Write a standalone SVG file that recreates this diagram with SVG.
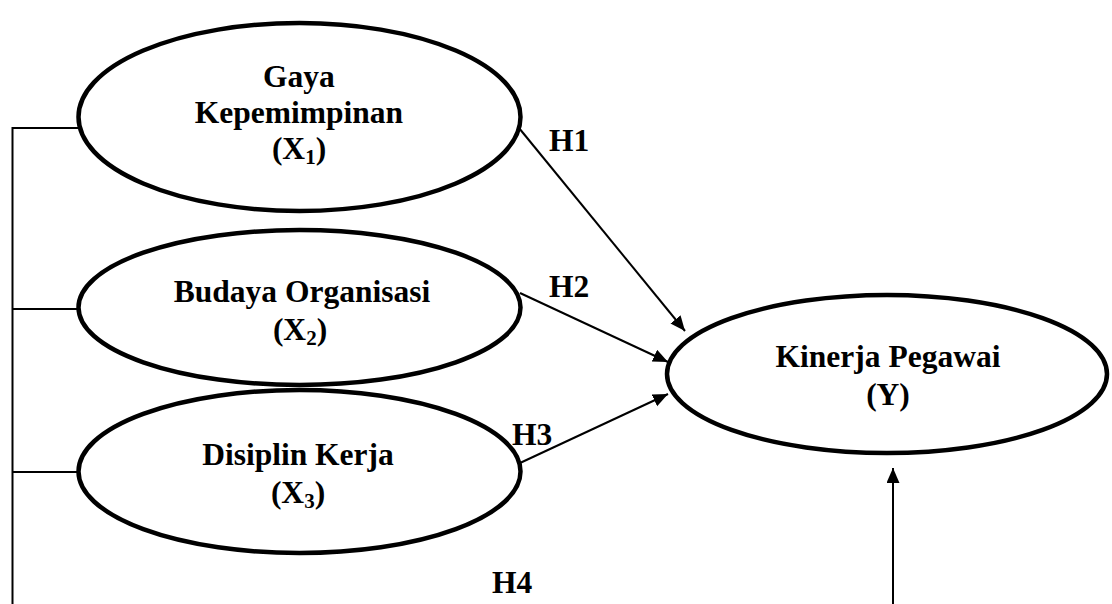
<svg xmlns="http://www.w3.org/2000/svg" width="1112" height="604" viewBox="0 0 1112 604">
<style>
.node ellipse{fill:#fff;stroke:#000;stroke-width:4.5}
text{font-family:"Liberation Serif","Times New Roman",serif;font-weight:bold;font-size:31.5px;fill:#000}
.lbl{text-anchor:middle}
.sub{font-size:21px}
.conn line,.conn path{stroke:#000;stroke-width:2;fill:none}
</style>
<defs>
<marker id="arr" markerUnits="userSpaceOnUse" markerWidth="16" markerHeight="14" refX="15" refY="6.5" orient="auto">
<path d="M0,0 L15,6.5 L0,13 z" fill="#000"/>
</marker>
</defs>
<g class="conn" id="connectors">
<path d="M78,128 H12.5 V604"/>
<line x1="12.5" y1="309" x2="78" y2="309"/>
<line x1="12.5" y1="472" x2="78" y2="472"/>
<line x1="519" y1="128" x2="685" y2="331" marker-end="url(#arr)"/>
<line x1="520" y1="293" x2="668" y2="362" marker-end="url(#arr)"/>
<line x1="520" y1="463" x2="668" y2="394" marker-end="url(#arr)"/>
<line x1="893" y1="604" x2="893" y2="468" marker-end="url(#arr)"/>
<text x="549" y="151">H1</text>
<text x="549" y="297">H2</text>
<text x="512" y="445">H3</text>
<text x="492" y="593">H4</text>
</g>
<g class="node" id="x1">
<ellipse cx="299.5" cy="117" rx="221" ry="94"/>
<text class="lbl" x="299" y="87">Gaya</text>
<text class="lbl" x="299" y="123">Kepemimpinan</text>
<text class="lbl" x="299" y="159">(X<tspan class="sub" dy="5">1</tspan><tspan dy="-5">)</tspan></text>
</g>
<g class="node" id="x2">
<ellipse cx="299.5" cy="307.5" rx="221" ry="77.5"/>
<text class="lbl" x="302" y="302">Budaya Organisasi</text>
<text class="lbl" x="300" y="340">(X<tspan class="sub" dy="5">2</tspan><tspan dy="-5">)</tspan></text>
</g>
<g class="node" id="x3">
<ellipse cx="299.5" cy="471.5" rx="221" ry="81.5"/>
<text class="lbl" x="298" y="465">Disiplin Kerja</text>
<text class="lbl" x="298" y="503">(X<tspan class="sub" dy="5">3</tspan><tspan dy="-5">)</tspan></text>
</g>
<g class="node" id="y">
<ellipse cx="887" cy="374" rx="220" ry="79"/>
<text class="lbl" x="888" y="367">Kinerja Pegawai</text>
<text class="lbl" x="888" y="405">(Y)</text>
</g>
</svg>
